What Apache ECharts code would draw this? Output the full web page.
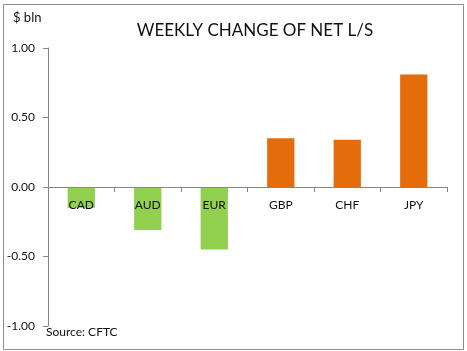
<!DOCTYPE html>
<html>
<head>
<meta charset="utf-8">
<script src="https://cdn.jsdelivr.net/npm/echarts@6/dist/echarts.min.js"></script>
<style>
  html, body { margin: 0; padding: 0; background: #fff; }
  #chart { width: 467px; height: 351px; }
</style>
</head>
<body>
<div id="chart"></div>
<script>
// currencies and weekly change of net long/short, $ bln
const currencies = ['CAD', 'AUD', 'EUR', 'GBP', 'CHF', 'JPY']
const netChange = [-0.15, -0.31, -0.45, 0.35, 0.34, 0.81]
const yTicks = [-1, 1, 0.5] // min, max, interval

const chart = echarts.init(document.getElementById('chart'))

const font = 'Lato, "Open Sans", sans-serif'

chart.setOption({
  animation: false,
  title: {
    text: 'WEEKLY CHANGE OF NET L/S',
    left: 250,
    textAlign: 'center',
    top: 17,
    textStyle: { fontFamily: font, fontSize: 17, fontWeight: 'normal', color: '#111' }
  },
  graphic: [
    {
      type: 'rect',
      shape: { x: 3.5, y: 4.5, width: 460, height: 345 },
      style: { fill: 'none', stroke: '#8c8c8c', lineWidth: 1 },
      z: -1
    },
    {
      type: 'text', left: 13, top: 11,
      style: { text: '$ bln', font: '13px ' + font, fill: '#111' }
    },
    {
      type: 'text', left: 46, top: 326,
      style: { text: 'Source: CFTC', font: '12px ' + font, fill: '#111' }
    }
  ],
  grid: { left: 48, right: 20, top: 48, bottom: 25, containLabel: false },
  xAxis: {
    type: 'category',
    data: currencies,
    offset: -139,
    axisLine: { onZero: false, lineStyle: { color: '#868686' } },
    axisTick: { show: true, length: 5, lineStyle: { color: '#868686' } },
    axisLabel: { color: '#111', fontFamily: font, fontSize: 12, margin: 12 },
    z: 10
  },
  yAxis: {
    type: 'value',
    min: yTicks[0],
    max: yTicks[1],
    interval: yTicks[2],
    axisLine: { show: true, lineStyle: { color: '#868686' } },
    axisTick: { show: true, length: 5, lineStyle: { color: '#868686' } },
    splitLine: { show: false },
    axisLabel: {
      color: '#111', fontFamily: font, fontSize: 12, margin: 13,
      formatter: v => v.toFixed(2)
    }
  },
  series: [{
    type: 'bar',
    data: netChange,
    barWidth: '41%',
    itemStyle: {
      color: p => p.value < 0 ? '#92d050' : '#e46c0a'
    }
  }]
})
</script>
</body>
</html>
